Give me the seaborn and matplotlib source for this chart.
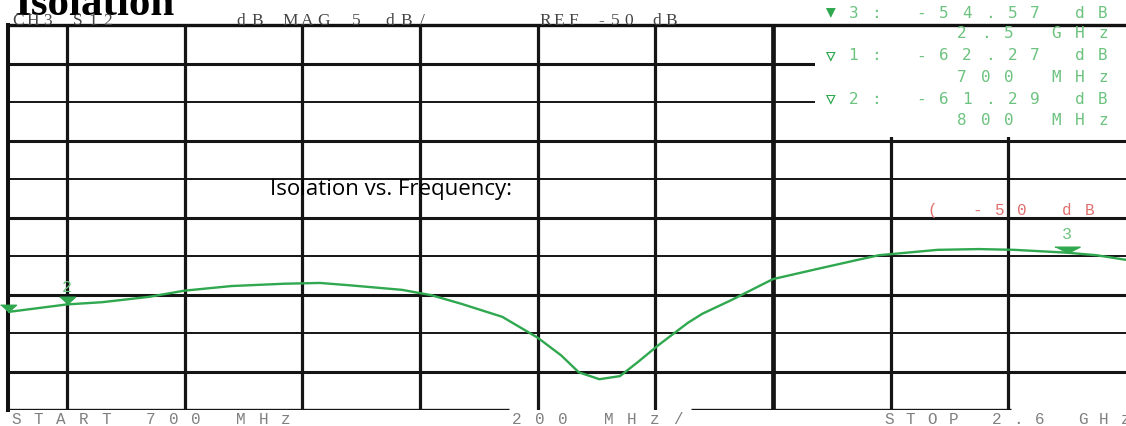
import matplotlib
matplotlib.use("Agg")
import matplotlib.pyplot as plt
from matplotlib.patches import Rectangle
import seaborn as sns

# trace (S12, CH3)
freq_mhz = [700, 800, 860, 940, 1000, 1080, 1170, 1230, 1280, 1370, 1420, 1470,
            1540, 1600, 1640, 1670, 1705, 1740, 1770, 1805, 1855, 1880, 1930,
            2000, 2080, 2150, 2180, 2280, 2350, 2410, 2500, 2550, 2600]
isolation_db = [-62.27, -61.29, -61.0, -60.3, -59.5, -58.9, -58.6, -58.5, -58.8,
                -59.4, -60.1, -61.2, -62.9, -65.6, -67.9, -70.1, -71.0, -70.6,
                -68.8, -66.6, -63.7, -62.5, -60.7, -58.0, -56.6, -55.4, -54.9,
                -54.2, -54.1, -54.2, -54.57, -54.9, -55.5]

# markers
marker_ids = [3, 1, 2]
marker_freq_mhz = [2500, 700, 800]
marker_db = [-54.57, -62.27, -61.29]
marker_freq_text = ["2.5 GHz", "700 MHz", "800 MHz"]

W, H = 1126, 426
green = "#2fa84f"
light_green = "#6cc27f"

sns.set_theme(style="white")
plt.rcParams["font.family"] = ["DejaVu Sans"]

fig = plt.figure(figsize=(W / 100, H / 100), dpi=100)
ax = fig.add_axes([8 / W, (H - 410) / H, 1118 / W, (410 - 25) / H])
ax.set_xlim(700, 2600)
ax.set_ylim(-75, -25)
ax.set_xticks([])
ax.set_yticks([])
for side in ["right", "bottom"]:
    ax.spines[side].set_visible(False)
ax.spines["top"].set_linewidth(2.4)
ax.spines["left"].set_linewidth(2.9)
for side in ["top", "left"]:
    ax.spines[side].set_color("#111111")

# graticule
for f in [800] + list(range(1000, 2600, 200)):
    ax.axvline(f, color="#151515", lw=3.4 if f == 2000 else 2.3, zorder=1)
for db in range(-70, -25, 5):
    ax.axhline(db, color="#151515", lw=2.2 if db % 10 == 0 else 1.4, zorder=1)
ax.hlines(-75, 700, 1552, color="#151515", lw=2.4, zorder=1)
ax.hlines(-75, 1860, 2404, color="#151515", lw=2.4, zorder=1)

# marker readout box
ax.add_patch(Rectangle((2072, -39.6), 600, 14.3, facecolor="white",
                       edgecolor="none", zorder=2))

sns.lineplot(x=freq_mhz, y=isolation_db, ax=ax, color=green, lw=1.7,
             zorder=3, legend=False)

tri_big = [(-2, 1), (2, 1), (0, 0)]
tri_small = [(-1.2, 1.1), (1.2, 1.1), (0, 0)]
for mid, f, db in zip(marker_ids, marker_freq_mhz, marker_db):
    active = mid == 3
    ax.scatter([f], [db], marker=tri_big if active else tri_small,
               s=330 if active else 130, color=green, zorder=4, clip_on=False)
    if mid != 1:
        ax.annotate(str(mid), (f, db), xytext=(0, 13 if active else 12),
                    textcoords="offset points", ha="center", va="center",
                    color=light_green, fontsize=12, family="Liberation Mono")


def spaced(s, x, y, pitch, **kw):
    for i, ch in enumerate(s):
        if ch != " ":
            fig.text((x + i * pitch) / W, 1 - y / H, ch, ha="center",
                     va="center", **kw)


def spaced_right(s, x_last, y, pitch, **kw):
    spaced(s, x_last - (len(s) - 1) * pitch, y, pitch, **kw)


# title and header
fig.text(15 / W, 1 - 15 / H, "Isolation", ha="left", va="baseline",
         fontsize=31, fontweight="bold", family="Liberation Serif", color="black")
hdr = dict(fontsize=12.5, family="Liberation Serif", color="#444444")
spaced("CH3 S12", 18, 21, 15, **hdr)
spaced("dB MAG 5 dB/", 241, 21, 16.5, **hdr)
spaced("REF -50 dB", 545, 21, 14, **hdr)

# readouts
mono = dict(fontsize=11.5, family=["DejaVu Sans Mono", "DejaVu Sans"])
row_y = 13
for mid, db, ftxt in zip(marker_ids, marker_db, marker_freq_text):
    sym = "\u25bc" if mid == 3 else "\u25bd"
    line1 = f"{sym}{mid}: {db:.2f} dB"
    spaced_right(line1, 1103, row_y, 22.7, color=light_green, **mono)
    fig.text((1103 - (len(line1) - 1) * 22.7) / W, 1 - row_y / H, sym,
             ha="center", va="center", color=green, **mono)
    spaced_right(ftxt, 1103, row_y + 21, 23.5, color=light_green, **mono)
    row_y += 43

# reference level
spaced("( -50 dB", 932, 211, 22.5, color="#e07070", fontsize=11.5,
       family="Liberation Mono")

# overlay caption
fig.text(270 / W, 1 - 190 / H, "Isolation vs. Frequency:", ha="left",
         va="center", fontsize=16, family="Open Sans", color="black")

# footer
foot = dict(fontsize=11.5, family="Liberation Mono", color="#808080")
spaced("START 700 MHz", 16, 419, 22.5, **foot)
spaced("200 MHz/", 517, 419, 23, **foot)
spaced("STOP 2.6 GHz", 889, 419, 21.5, **foot)

fig.savefig("out.png", dpi=100)
